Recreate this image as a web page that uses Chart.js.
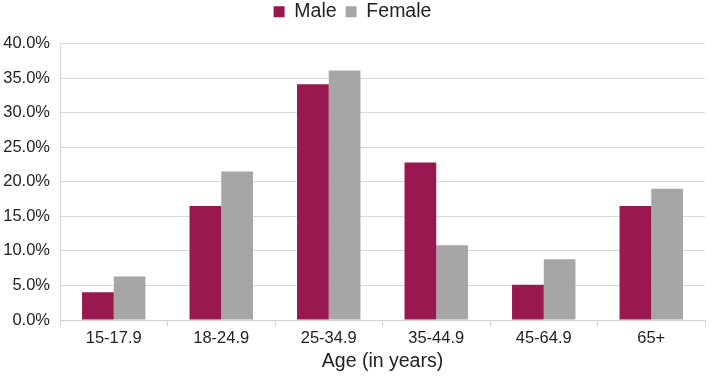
<!DOCTYPE html>
<html><head><meta charset="utf-8">
<script src="https://cdn.jsdelivr.net/npm/chart.js@4/dist/chart.umd.min.js"></script>
<style>html,body{margin:0;padding:0;background:#fff}#wrap{width:709px;height:376px}</style>
</head><body><div id="wrap"><canvas id="c" width="709" height="376"></canvas></div>
<script>
const categories = ["15-17.9","18-24.9","25-34.9","35-44.9","45-64.9","65+"];
const male = [4.0, 16.5, 34.1, 22.8, 5.1, 16.5];
const female = [6.3, 21.5, 36.1, 10.8, 8.8, 19.0];
const yTicks = [0,5,10,15,20,25,30,35,40];

const legendFit = {
  id: 'legendFit',
  beforeLayout(chart) {
    const lg = chart.legend;
    if (lg && !lg._patched) {
      const orig = lg.fit;
      lg.fit = function() { orig.call(this); this.height += 12; };
      lg._patched = true;
    }
  }
};

Chart.defaults.font.family = "'Liberation Sans', Arial, sans-serif";
Chart.defaults.color = "#222";
new Chart(document.getElementById('c'), {
  type: 'bar',
  data: {
    labels: categories,
    datasets: [
      {label: 'Male', data: male, backgroundColor: '#98184F', categoryPercentage: 0.59, barPercentage: 1},
      {label: 'Female', data: female, backgroundColor: '#A6A6A6', categoryPercentage: 0.59, barPercentage: 1}
    ]
  },
  plugins: [legendFit],
  options: {
    responsive: false, animation: false,
    layout: {padding: {left: 0, right: 4, top: -7, bottom: 0}},
    plugins: {
      legend: {position: 'top', labels: {boxWidth: 11, boxHeight: 11, font: {size: 19.5}, color: '#222', padding: 9}},
      tooltip: {enabled: false}
    },
    scales: {
      x: {
        grid: {display: true, drawOnChartArea: false, offset: true, tickLength: 6, color: '#d0d0d0'},
        border: {color: '#d0d0d0'},
        ticks: {font: {size: 16.5}, color: '#222', padding: 3},
        title: {display: true, text: 'Age (in years)', font: {size: 19.5}, color: '#222', padding: {top: 0, bottom: 3}},
        afterFit: s => { s.height = 56; }
      },
      y: {
        min: 0, max: 40,
        afterBuildTicks: s => { s.ticks = yTicks.map(v => ({value: v})); },
        grid: {color: '#d9d9d9', drawTicks: false},
        border: {display: true, color: '#d9d9d9'},
        ticks: {font: {size: 16.5}, color: '#222', padding: 10, callback: v => v.toFixed(1) + '%'},
        afterFit: s => { s.width = 60; }
      }
    }
  }
});
</script></body></html>
